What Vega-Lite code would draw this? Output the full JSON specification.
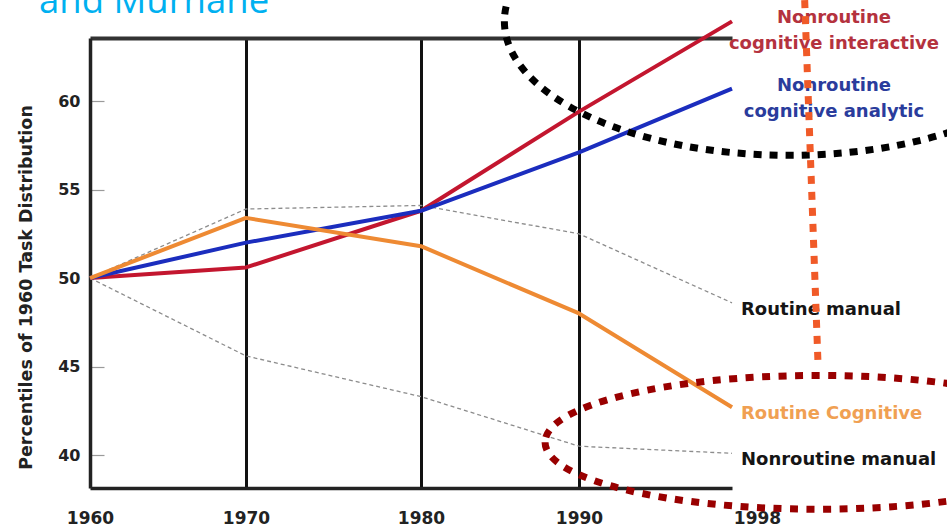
{
  "$schema": "https://vega.github.io/schema/vega-lite/v6.json",
  "width": 653,
  "height": 450,
  "autosize": {"type": "none"},
  "padding": {"left": 90, "top": 38, "right": 204, "bottom": 40},
  "background": "white",
  "config": {"view": {"stroke": null}, "font": "DejaVu Sans"},
  "datasets": {
    "tasks": [
      {"task": "Nonroutine cognitive interactive", "year": 1960, "value": 50},
      {"task": "Nonroutine cognitive interactive", "year": 1970, "value": 50.6},
      {"task": "Nonroutine cognitive interactive", "year": 1980, "value": 53.8},
      {"task": "Nonroutine cognitive interactive", "year": 1990, "value": 59.4},
      {"task": "Nonroutine cognitive interactive", "year": 1998, "value": 64.5},
      {"task": "Nonroutine cognitive analytic", "year": 1960, "value": 50},
      {"task": "Nonroutine cognitive analytic", "year": 1970, "value": 52.0},
      {"task": "Nonroutine cognitive analytic", "year": 1980, "value": 53.8},
      {"task": "Nonroutine cognitive analytic", "year": 1990, "value": 57.1},
      {"task": "Nonroutine cognitive analytic", "year": 1998, "value": 60.7},
      {"task": "Routine manual", "year": 1960, "value": 50},
      {"task": "Routine manual", "year": 1970, "value": 53.9},
      {"task": "Routine manual", "year": 1980, "value": 54.1},
      {"task": "Routine manual", "year": 1990, "value": 52.5},
      {"task": "Routine manual", "year": 1998, "value": 48.6},
      {"task": "Routine cognitive", "year": 1960, "value": 50},
      {"task": "Routine cognitive", "year": 1970, "value": 53.4},
      {"task": "Routine cognitive", "year": 1980, "value": 51.8},
      {"task": "Routine cognitive", "year": 1990, "value": 48.0},
      {"task": "Routine cognitive", "year": 1998, "value": 42.7},
      {"task": "Nonroutine manual", "year": 1960, "value": 50},
      {"task": "Nonroutine manual", "year": 1970, "value": 45.6},
      {"task": "Nonroutine manual", "year": 1980, "value": 43.3},
      {"task": "Nonroutine manual", "year": 1990, "value": 40.5},
      {"task": "Nonroutine manual", "year": 1998, "value": 40.1}
    ],
    "labels": [
      {"task": "Nonroutine cognitive interactive", "label": "Nonroutine\ncognitive interactive"},
      {"task": "Nonroutine cognitive analytic", "label": "Nonroutine\ncognitive analytic"},
      {"task": "Routine manual", "label": "Routine manual"},
      {"task": "Routine cognitive", "label": "Routine Cognitive"},
      {"task": "Nonroutine manual", "label": "Nonroutine manual"}
    ]
  },
  "data": {"name": "tasks"},
  "encoding": {
    "y": {
      "field": "value",
      "type": "quantitative",
      "scale": {"domain": [38.14, 63.56], "nice": false, "zero": false},
      "axis": {
        "values": [40, 45, 50, 55, 60],
        "title": "Percentiles of 1960 Task Distribution",
        "titleX": -64,
        "titleY": 249,
        "titleAngle": -90,
        "titleAlign": "center",
        "titleBaseline": "middle",
        "titleFontSize": 17.5,
        "titleFontWeight": "bold",
        "titleColor": "#222222",
        "grid": false,
        "domainColor": "#222222",
        "domainWidth": 3.5,
        "tickSize": -14,
        "tickColor": "#9a9a9a",
        "tickWidth": 1.2,
        "labelPadding": 24,
        "labelFontSize": 16,
        "labelFontWeight": "bold",
        "labelColor": "#222222"
      }
    }
  },
  "layer": [
    {
      "transform": [{"filter": "datum.task === 'Routine manual' || datum.task === 'Nonroutine manual'"}],
      "mark": {"type": "line", "color": "#8c8c8c", "strokeWidth": 1.3, "strokeDash": [4, 3]},
      "encoding": {
        "x": {
          "field": "year",
          "type": "quantitative",
          "scale": {"domain": [1960, 1970, 1980, 1990, 1998], "range": [0, 156, 331, 489, 642], "nice": false, "zero": false},
          "axis": {"orient": "top", "values": [1970, 1980, 1990], "grid": true, "gridColor": "#111111", "gridWidth": 3, "gridOpacity": 1, "domain": true, "domainColor": "#333333", "domainWidth": 4, "ticks": false, "labels": false, "title": null}
        },
        "detail": {"field": "task"}
      }
    },
    {
      "transform": [{"filter": "datum.task !== 'Routine manual' && datum.task !== 'Nonroutine manual'"}],
      "mark": {"type": "line", "strokeWidth": 4, "strokeJoin": "round"},
      "encoding": {
        "x": {
          "field": "year",
          "type": "quantitative",
          "scale": {"domain": [1960, 1970, 1980, 1990, 1998], "range": [0, 156, 331, 489, 642], "nice": false, "zero": false},
          "axis": {"orient": "bottom", "values": [1960, 1970, 1980, 1990, 1998], "format": "d", "grid": false, "domain": true, "domainColor": "#222222", "domainWidth": 3.5, "ticks": false, "labelFlush": false, "labelOffset": {"condition": {"test": "datum.value === 1998", "value": 25}, "value": 0}, "labelPadding": 22, "labelFontSize": 17, "labelFontWeight": "bold", "labelColor": "#222222", "title": null}
        },
        "color": {
          "field": "task",
          "type": "nominal",
          "scale": {"domain": ["Routine cognitive", "Nonroutine cognitive analytic", "Nonroutine cognitive interactive"], "range": ["#EE8A33", "#1B2DBE", "#C3162F"]},
          "legend": null
        },
        "order": {"field": "year"}
      }
    },
    {
      "transform": [
        {"filter": "datum.year === 1998 && (datum.task === 'Nonroutine cognitive interactive' || datum.task === 'Nonroutine cognitive analytic')"},
        {"lookup": "task", "from": {"data": {"name": "labels"}, "key": "task", "fields": ["label"]}}
      ],
      "mark": {"type": "text", "align": "center", "baseline": "middle", "dx": 102, "dy": -3, "lineBreak": "\n", "lineHeight": 26, "fontSize": 18, "fontWeight": "bold"},
      "encoding": {
        "x": {"field": "year", "type": "quantitative", "axis": null},
        "text": {"field": "label"},
        "color": {
          "field": "task",
          "type": "nominal",
          "scale": {"domain": ["Nonroutine cognitive interactive", "Nonroutine cognitive analytic", "Routine manual", "Routine cognitive", "Nonroutine manual"], "range": ["#B4323E", "#2A3C9C", "#151515", "#F0A052", "#151515"]},
          "legend": null
        }
      }
    },
    {
      "transform": [
        {"filter": "datum.year === 1998 && datum.task !== 'Nonroutine cognitive interactive' && datum.task !== 'Nonroutine cognitive analytic'"},
        {"lookup": "task", "from": {"data": {"name": "labels"}, "key": "task", "fields": ["label"]}}
      ],
      "mark": {"type": "text", "align": "left", "baseline": "middle", "dx": 9, "dy": 7, "fontSize": 18, "fontWeight": "bold"},
      "encoding": {
        "x": {"field": "year", "type": "quantitative", "axis": null},
        "text": {"field": "label"},
        "color": {
          "field": "task",
          "type": "nominal",
          "scale": {"domain": ["Nonroutine cognitive interactive", "Nonroutine cognitive analytic", "Routine manual", "Routine cognitive", "Nonroutine manual"], "range": ["#B4323E", "#2A3C9C", "#151515", "#F0A052", "#151515"]},
          "legend": null
        }
      }
    },
    {
      "transform": [{"filter": "datum.year === 1960 && datum.task === 'Routine manual'"}],
      "mark": {"type": "text", "text": "and Murnane", "align": "left", "baseline": "alphabetic", "font": "Open Sans", "fontSize": 36.5, "fontWeight": "normal", "color": "#00B0F0"},
      "encoding": {
        "x": {"datum": 1956.73, "type": "quantitative", "axis": null},
        "y": {"datum": 64.97, "type": "quantitative"}
      }
    },
    {
      "transform": [{"filter": "datum.year === 1960 && datum.task === 'Routine manual'"}],
      "mark": {"type": "point", "shape": "M -1 0 A 1 0.47 0 1 0 1 0 A 1 0.47 0 1 0 -1 0 Z", "filled": false, "size": 324900, "stroke": "#000000", "strokeWidth": 7, "strokeDash": [8, 8], "opacity": 1},
      "encoding": {
        "x": {"datum": 2001.0, "type": "quantitative", "axis": null},
        "y": {"datum": 64.5, "type": "quantitative"}
      }
    },
    {
      "transform": [{"filter": "datum.year === 1960 && datum.task === 'Routine manual'"}],
      "mark": {"type": "point", "shape": "M -1 0 A 1 0.245 0 1 0 1 0 A 1 0.245 0 1 0 -1 0 Z", "filled": false, "size": 298116, "stroke": "#990000", "strokeWidth": 7, "strokeDash": [8, 8.5], "opacity": 1},
      "encoding": {
        "x": {"datum": 2002.5, "type": "quantitative", "axis": null},
        "y": {"datum": 40.72, "type": "quantitative"}
      }
    },
    {
      "transform": [{"filter": "datum.year === 1960 && datum.task === 'Routine manual'"}],
      "mark": {"type": "rule", "stroke": "#F05A28", "strokeWidth": 7, "strokeDash": [8, 8]},
      "encoding": {
        "x": {"datum": 2001.8, "type": "quantitative", "axis": null},
        "x2": {"datum": 2002.5},
        "y": {"datum": 65.7, "type": "quantitative"},
        "y2": {"datum": 45.1}
      }
    }
  ],
  "resolve": {"axis": {"x": "independent"}, "scale": {"color": "independent"}}
}
